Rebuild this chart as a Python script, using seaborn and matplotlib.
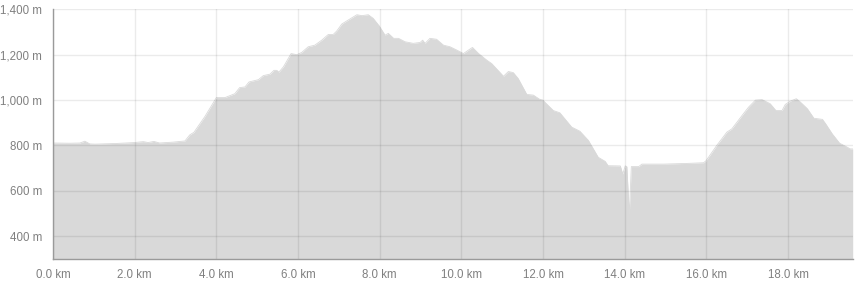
import matplotlib
matplotlib.use("Agg")
import matplotlib.pyplot as plt
import matplotlib.ticker as mticker
import seaborn as sns
import pandas as pd

distance_km = [0.00, 0.41, 0.66, 0.78, 0.90, 1.03, 1.56, 1.99, 2.21, 2.33, 2.47, 2.61, 2.95, 3.23,
               3.35, 3.45, 3.72, 4.00, 4.21, 4.45, 4.57, 4.70, 4.80, 5.03, 5.15, 5.31, 5.41, 5.48,
               5.53, 5.64, 5.83, 5.97, 6.09, 6.25, 6.41, 6.58, 6.74, 6.86, 6.95, 7.07, 7.23, 7.44,
               7.56, 7.72, 7.84, 7.99, 8.13, 8.21, 8.34, 8.46, 8.62, 8.82, 8.99, 9.05, 9.11, 9.23,
               9.39, 9.56, 9.72, 9.89, 10.05, 10.17, 10.27, 10.42, 10.62, 10.74, 11.03, 11.15, 11.27,
               11.39, 11.60, 11.76, 11.91, 11.99, 12.25, 12.41, 12.70, 12.90, 13.11, 13.35, 13.52,
               13.59, 13.89, 13.95, 14.01, 14.05, 14.11, 14.16, 14.34, 14.42, 14.95, 15.52, 15.93,
               15.99, 16.25, 16.50, 16.62, 16.87, 17.03, 17.20, 17.36, 17.56, 17.70, 17.85, 17.93,
               18.06, 18.20, 18.30, 18.47, 18.63, 18.84, 18.92, 19.08, 19.26, 19.42, 19.52, 19.58]
elevation_m = [811, 810, 811, 819, 807, 806, 809, 813, 817, 813, 818, 811, 815, 820,
               847, 858, 928, 1011, 1011, 1028, 1055, 1058, 1080, 1090, 1108, 1114, 1131, 1131,
               1123, 1146, 1205, 1200, 1210, 1235, 1242, 1264, 1289, 1289, 1305, 1335, 1353, 1376,
               1372, 1376, 1360, 1326, 1286, 1294, 1272, 1272, 1257, 1250, 1254, 1264, 1250, 1272,
               1268, 1242, 1235, 1220, 1205, 1220, 1232, 1205, 1176, 1161, 1105, 1126, 1121,
               1095, 1025, 1022, 1004, 1000, 954, 944, 881, 863, 822, 748, 730,
               711, 710, 674, 710, 707, 497, 707, 707, 718, 718, 721, 724,
               733, 800, 859, 873, 932, 969, 1000, 1002, 984, 954, 954, 981,
               996, 1006, 991, 962, 920, 915, 895, 851, 810, 795, 785, 785]

x_ticks = [0, 2, 4, 6, 8, 10, 12, 14, 16, 18]
y_ticks = [400, 600, 800, 1000, 1200, 1400]
y_min, y_max = 300, 1400

df = pd.DataFrame({"distance": distance_km, "elevation": elevation_m})

sns.set_theme(style="white")
plt.rcParams["font.family"] = ["Liberation Sans", "DejaVu Sans"]

fill_color = "#d9d9d9"
axis_color = "#9a9a9a"
label_color = "#808080"

fig = plt.figure(figsize=(8.55, 2.83), dpi=100)
ax = fig.add_axes([53 / 855, 1 - 259 / 283, (852.7 - 53) / 855, (259 - 9.3) / 283])

ax.fill_between(df["distance"], df["elevation"], y_min, color=fill_color, linewidth=0, zorder=1)
sns.lineplot(data=df, x="distance", y="elevation", ax=ax, color=fill_color, linewidth=0.6,
             zorder=1.5, estimator=None, sort=False)

ax.set_xlim(0, max(distance_km))
ax.set_ylim(y_min, y_max)
ax.set_xticks(x_ticks)
ax.set_yticks(y_ticks)
ax.xaxis.set_major_formatter(mticker.FuncFormatter(lambda v, p: f"{v:.1f} km"))
ax.yaxis.set_major_formatter(mticker.FuncFormatter(lambda v, p: f"{int(v):,} m"))

ax.set_xticks([0, max(distance_km)], minor=True)
ax.set_yticks([y_min, y_max], minor=True)

ax.tick_params(axis="both", which="major", length=0, labelsize=8.3, labelcolor=label_color)
ax.tick_params(axis="x", which="major", pad=7)
ax.tick_params(axis="y", which="major", pad=8)
ax.tick_params(axis="both", which="minor", length=5, width=1, color=axis_color)

ax.set_axisbelow(False)
ax.grid(True, which="major", color="black", alpha=0.08, linewidth=1)
ax.set_xlabel("")
ax.set_ylabel("")

for side in ["top", "right"]:
    ax.spines[side].set_visible(False)
for side in ["left", "bottom"]:
    ax.spines[side].set_color(axis_color)
    ax.spines[side].set_linewidth(1)
    ax.spines[side].set_zorder(3)

fig.savefig("out.png", dpi=100, facecolor="white")
